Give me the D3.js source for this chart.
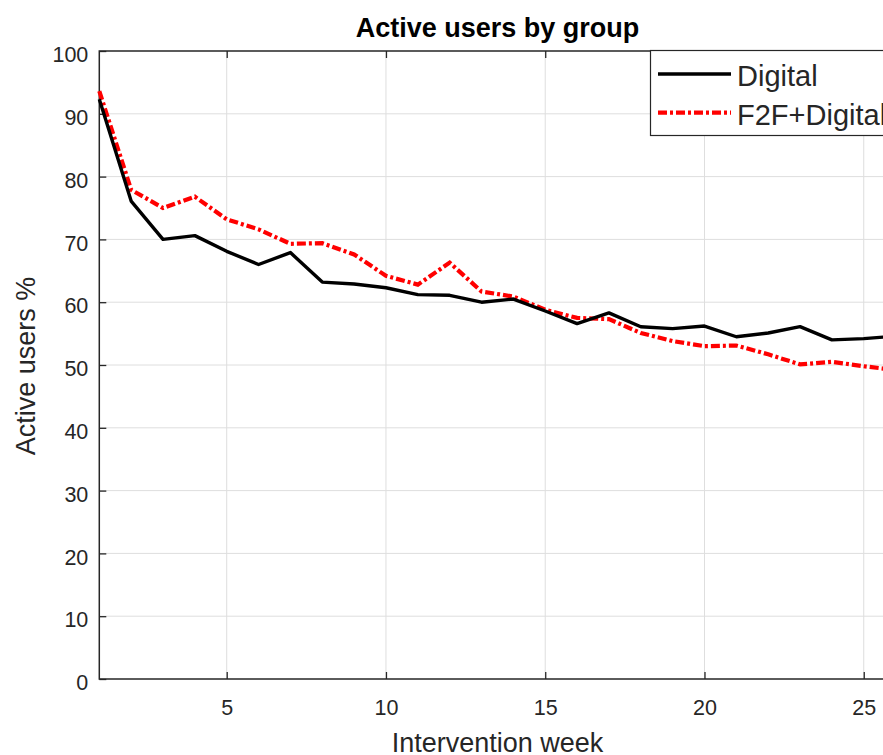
<!DOCTYPE html>
<html>
<head>
<meta charset="utf-8">
<script src="https://cdn.jsdelivr.net/npm/d3@7"></script>
<style>
  body { margin: 0; background: #fff; overflow: hidden; }
  svg { display: block; font-family: "Liberation Sans", Arial, sans-serif; }
</style>
</head>
<body>
<div id="chart"></div>
<script>
// weeks 1..26
const weeks = d3.range(1, 27);

// Active users % per week
const digital = [92.3, 76.1, 70.0, 70.6, 68.1, 66.0, 67.9, 63.2, 62.9, 62.3,
  61.2, 61.1, 60.0, 60.5, 58.6, 56.6, 58.3, 56.1, 55.8, 56.2,
  54.5, 55.1, 56.1, 54.0, 54.2, 54.6];
const f2fDigital = [93.6, 77.9, 75.0, 76.8, 73.2, 71.6, 69.3, 69.4, 67.6, 64.2,
  62.8, 66.3, 61.7, 60.9, 58.8, 57.5, 57.3, 55.1, 53.8, 53.0,
  53.1, 51.7, 50.1, 50.5, 49.8, 49.2];

const seriesNames = ["Digital", "F2F+Digital"];
const yTicks = [0, 10, 20, 30, 40, 50, 60, 70, 80, 90, 100];
const xTicks = [5, 10, 15, 20, 25];

const W = 883, H = 755;
const margin = { top: 51, left: 99.3 };
const width = 796.3;
const height = 628;
const axisColor = "#262626";

const svg = d3.select("#chart")
  .append("svg")
  .attr("width", W)
  .attr("height", H);

const g = svg.append("g")
  .attr("transform", "translate(" + margin.left + "," + margin.top + ")");

let x = d3.scaleLinear().domain([1, 26]).range([0, width]);
let y = d3.scaleLinear().domain([0, 100]).range([height, 0]);

// grid
g.append("g")
  .selectAll("line.gx")
  .data(xTicks).enter()
  .append("line")
  .attr("x1", d => x(d)).attr("x2", d => x(d))
  .attr("y1", 0).attr("y2", height)
  .attr("stroke", "#dedede").attr("stroke-width", 1);

g.append("g")
  .selectAll("line.gy")
  .data(yTicks.slice(1, -1)).enter()
  .append("line")
  .attr("x1", 0).attr("x2", width)
  .attr("y1", d => y(d)).attr("y2", d => y(d))
  .attr("stroke", "#dedede").attr("stroke-width", 1);

// axes with inward ticks
const styleAxis = sel => {
  sel.select(".domain").remove();
  sel.selectAll(".tick line").attr("stroke", axisColor).attr("stroke-width", 1.3);
  sel.selectAll(".tick text")
    .attr("fill", axisColor)
    .style("font-size", "21.5px")
    .style("font-family", "Liberation Sans, Arial, sans-serif");
};

g.append("g")
  .attr("transform", "translate(0," + height + ")")
  .call(d3.axisBottom(x).tickValues(xTicks).tickSizeInner(-7).tickSizeOuter(0).tickPadding(21))
  .call(styleAxis);

g.append("g")
  .call(d3.axisTop(x).tickValues(xTicks).tickSizeInner(-7).tickSizeOuter(0).tickFormat(""))
  .call(styleAxis);

g.append("g")
  .call(d3.axisLeft(y).tickValues(yTicks).tickSizeInner(-7).tickSizeOuter(0).tickPadding(11))
  .call(styleAxis)
  .selectAll(".tick text").attr("dy", "0.5em");

// box
g.append("rect")
  .attr("width", width).attr("height", height)
  .attr("fill", "none")
  .attr("stroke", axisColor)
  .attr("stroke-width", 1.5);

// lines
const line = d3.line()
  .x((d, i) => x(weeks[i]))
  .y(d => y(d));

g.append("path")
  .datum(f2fDigital)
  .attr("fill", "none")
  .attr("stroke", "#ff0000")
  .attr("stroke-width", 4.2)
  .attr("stroke-dasharray", "9,3,3,3")
  .attr("d", line);

g.append("path")
  .datum(digital)
  .attr("fill", "none")
  .attr("stroke", "#000")
  .attr("stroke-width", 3.4)
  .attr("stroke-linejoin", "round")
  .attr("d", line);

// title and labels
svg.append("text")
  .attr("x", margin.left + width / 2)
  .attr("y", 37)
  .attr("text-anchor", "middle")
  .attr("font-weight", "bold")
  .attr("font-size", "27px")
  .attr("fill", "#000")
  .text("Active users by group");

svg.append("text")
  .attr("x", margin.left + width / 2)
  .attr("y", 752)
  .attr("text-anchor", "middle")
  .attr("font-size", "27px")
  .attr("fill", axisColor)
  .text("Intervention week");

svg.append("text")
  .attr("transform", "translate(35,366) rotate(-90)")
  .attr("text-anchor", "middle")
  .attr("font-size", "27px")
  .attr("fill", axisColor)
  .text("Active users %");

// legend
const legend = svg.append("g").attr("transform", "translate(650,50)");
legend.append("rect")
  .attr("x", 0.5).attr("y", 0.5)
  .attr("width", 260).attr("height", 85)
  .attr("fill", "#fff")
  .attr("stroke", axisColor)
  .attr("stroke-width", 1.2);

const legendStyles = [
  { color: "#000", width: 3.4, dash: null },
  { color: "#ff0000", width: 4.2, dash: "9,3,3,3" }
];

seriesNames.forEach((name, i) => {
  const ly = 24 + i * 38.7;
  legend.append("line")
    .attr("x1", 8).attr("x2", 81)
    .attr("y1", ly).attr("y2", ly)
    .attr("stroke", legendStyles[i].color)
    .attr("stroke-width", legendStyles[i].width)
    .attr("stroke-dasharray", legendStyles[i].dash);
  legend.append("text")
    .attr("x", 87).attr("y", ly + 12)
    .attr("font-size", "29px")
    .attr("fill", axisColor)
    .text(name);
});
</script>
</body>
</html>
